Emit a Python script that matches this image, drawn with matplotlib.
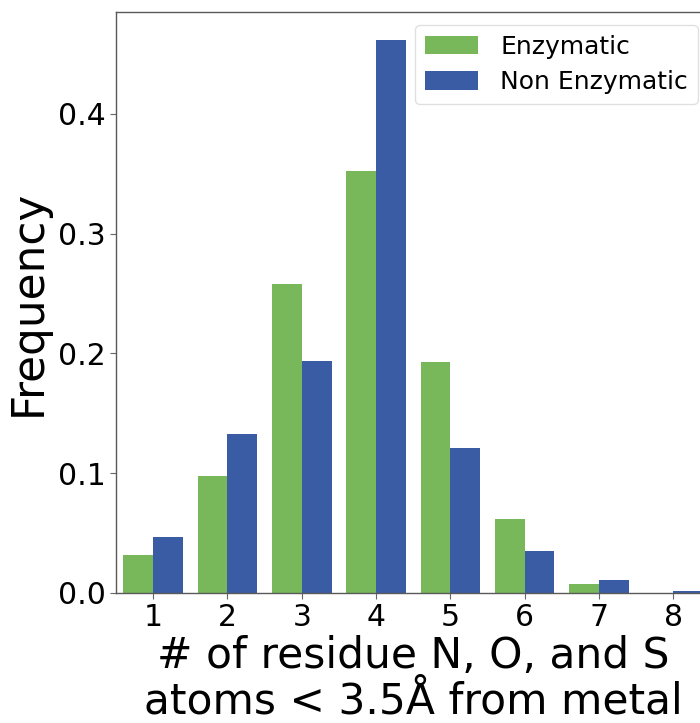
import matplotlib
matplotlib.use("Agg")
import matplotlib.pyplot as plt
import numpy as np

categories = ["1", "2", "3", "4", "5", "6", "7", "8"]
enzymatic = [0.032, 0.098, 0.258, 0.352, 0.193, 0.062, 0.0075, 0.0]
non_enzymatic = [0.0465, 0.133, 0.194, 0.462, 0.121, 0.035, 0.0106, 0.0014]
series_names = ["Enzymatic", "Non Enzymatic"]
colors = ["#78b85b", "#3a5ca4"]

fig = plt.figure(figsize=(7.0, 7.23), dpi=100)
W, H = 700, 723
left, right = 116 / W, 710.5 / W
bottom, top = (H - 593) / H, (H - 12) / H
ax = fig.add_axes([left, bottom, right - left, top - bottom])

x = np.arange(len(categories))
w = 0.4
ax.bar(x - w / 2, enzymatic, width=w, color=colors[0], label=series_names[0])
ax.bar(x + w / 2, non_enzymatic, width=w, color=colors[1], label=series_names[1])

ax.set_xlim(-0.5, 7.5)
ax.set_ylim(0, 0.485)
ax.set_xticks(x)
ax.set_xticklabels(categories)
ax.set_yticks([0.0, 0.1, 0.2, 0.3, 0.4])
ax.set_yticklabels(["0.0", "0.1", "0.2", "0.3", "0.4"])
ax.tick_params(labelsize=21.5, length=4, color="0.4")
for s in ax.spines.values():
    s.set_color("0.35")
    s.set_linewidth(1.0)

ax.set_ylabel("Frequency", fontsize=31.5, labelpad=6)
ax.set_xlabel("# of residue N, O, and S\natoms < 3.5Å from metal", fontsize=30.5,
              linespacing=1.1, labelpad=2)

leg = fig.legend(loc="upper right", bbox_to_anchor=(698 / W, (H - 25) / H),
                 fontsize=18, borderaxespad=0, handlelength=2.1, handleheight=0.75,
                 handletextpad=0.9, borderpad=0.4, labelspacing=0.45, frameon=True)
leg.get_frame().set_edgecolor("0.85")

fig.savefig("out.png", dpi=100)
